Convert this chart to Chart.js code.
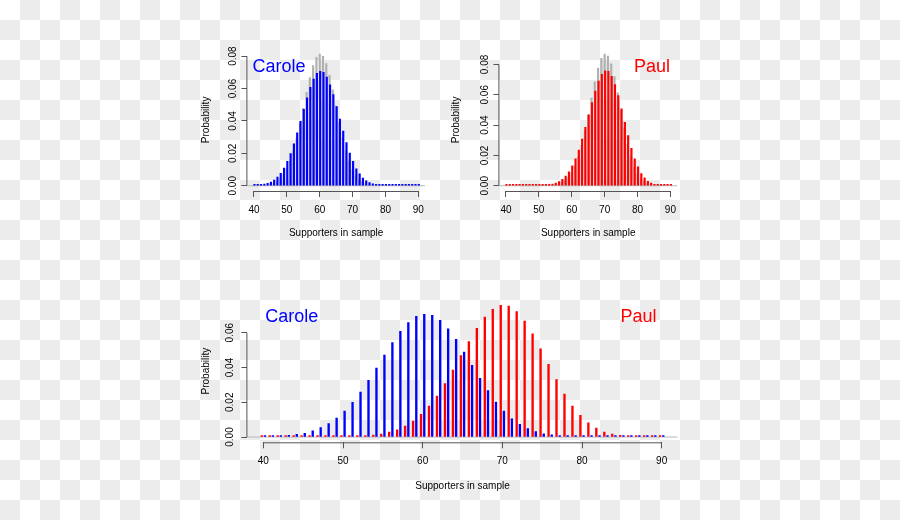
<!DOCTYPE html>
<html>
<head>
<meta charset="utf-8">
<script src="https://cdn.jsdelivr.net/npm/chart.js@4.4.1/dist/chart.umd.min.js"></script>
<style>
  html, body { margin: 0; padding: 0; }
  body {
    width: 900px; height: 520px; overflow: hidden; position: relative;
    background-color: #fff;
    background-image: conic-gradient(#ececec 0 25%, #fff 0 50%, #ececec 0 75%, #fff 0);
    background-size: 40px 40px;
  }
  canvas { position: absolute; left: 0; top: 0; }
</style>
</head>
<body>
<canvas id="carole" width="900" height="520"></canvas>
<canvas id="paul" width="900" height="520"></canvas>
<canvas id="both" width="900" height="520"></canvas>
<script>
// supporters in a sample of 100
const supporters = [40,41,42,43,44,45,46,47,48,49,50,51,52,53,54,55,56,57,58,59,60,
  61,62,63,64,65,66,67,68,69,70,71,72,73,74,75,76,77,78,79,80,81,82,83,84,85,86,87,88,89,90];

// Carole, simulated (blue)
const caroleSample = [0.0002,0.0004,0.0006,0.0010,0.0015,0.0022,0.0035,0.0054,0.0077,0.0109,
  0.0150,0.0199,0.0259,0.0326,0.0397,0.0472,0.0543,0.0608,0.0658,0.0694,
  0.0706,0.0700,0.0671,0.0623,0.0562,0.0489,0.0412,0.0338,0.0267,0.0201,
  0.0150,0.0105,0.0073,0.0048,0.0031,0.0019,0.0012,0.0008,0.0005,0.0003,
  0.0002,0.0001,0.0001,0.0001,0.0001,0.0001,0.0001,0.0001,0.0001,0.0001,0.0001];

// Paul, simulated (red)
const paulSample = [0.0001,0.0001,0.0001,0.0001,0.0001,0.0001,0.0001,0.0001,0.0001,0.0001,
  0.0003,0.0004,0.0006,0.0008,0.0011,0.0017,0.0028,0.0042,0.0063,0.0092,
  0.0131,0.0178,0.0236,0.0307,0.0385,0.0468,0.0549,0.0625,0.0690,0.0735,
  0.0758,0.0754,0.0721,0.0667,0.0594,0.0508,0.0418,0.0330,0.0247,0.0178,
  0.0125,0.0081,0.0052,0.0029,0.0017,0.0010,0.0006,0.0003,0.0002,0.0001,0.0001];

// grey bars behind (Carole)
const caroleExact = [0.00002,0.00005,0.00011,0.00023,0.00044,0.00083,0.00149,0.00256,0.00425,0.00676,
  0.01034,0.01520,0.02149,0.02919,0.03811,0.04781,0.05763,0.06673,0.07421,0.07924,
  0.08122,0.07989,0.07538,0.06820,0.05914,0.04913,0.03908,0.02975,0.02165,0.01506,
  0.01001,0.00634,0.00383,0.00220,0.00121,0.00063,0.00031,0.00014,0.00006,0.00003,
  0.00001,0,0,0,0,0,0,0,0,0,0];

// grey bars behind (Paul)
const paulExact = [0,0,0,0,0,0,0,0,0,0,
  0.00001,0.00003,0.00006,0.00013,0.00028,0.00055,0.00103,0.00185,0.00321,0.00533,
  0.00849,0.01299,0.01907,0.02684,0.03620,0.04678,0.05788,0.06854,0.07761,0.08398,
  0.08678,0.08556,0.08041,0.07196,0.06127,0.04956,0.03804,0.02767,0.01904,0.01237,
  0.00758,0.00437,0.00236,0.00119,0.00056,0.00025,0.00010,0.00004,0.00001,0,0];

const xTicks = [40,50,60,70,80,90];
const xTickLabels = ['40','50','60','70','80','90'];
const yTicksTop = [0,0.02,0.04,0.06,0.08];
const yTickLabelsTop = ['0.00','0.02','0.04','0.06','0.08'];
const yTicksBottom = [0,0.02,0.04,0.06];
const yTickLabelsBottom = ['0.00','0.02','0.04','0.06'];

Chart.defaults.font.family = '"Liberation Sans", Arial, Helvetica, sans-serif';
Chart.defaults.font.size = 10;
Chart.defaults.color = '#000';

const pts = (vals, shift) => supporters.map((s, i) => ({x: s + shift, y: vals[i]}));

// R-like axes, zero line, y labels and the names
const rAxes = {
  id: 'rAxes',
  beforeDatasetsDraw(chart) {
    const {ctx, chartArea: a, scales: {y}} = chart;
    const y0 = y.getPixelForValue(0);
    ctx.save();
    ctx.strokeStyle = '#b8b8b8';
    ctx.lineWidth = 1;
    ctx.beginPath();
    ctx.moveTo(a.left, y0);
    ctx.lineTo(a.right, y0);
    ctx.stroke();
    ctx.restore();
  },
  afterDraw(chart, args, opts) {
    const {ctx, chartArea: a, scales: {x, y}} = chart;
    const xt = x.ticks, yt = y.ticks;
    ctx.save();
    ctx.strokeStyle = '#555';
    ctx.lineWidth = 1;
    ctx.beginPath();
    ctx.moveTo(x.getPixelForValue(xt[0].value), a.bottom + 0.5);
    ctx.lineTo(x.getPixelForValue(xt[xt.length - 1].value), a.bottom + 0.5);
    ctx.moveTo(a.left - 0.5, y.getPixelForValue(yt[0].value));
    ctx.lineTo(a.left - 0.5, y.getPixelForValue(yt[yt.length - 1].value));
    ctx.stroke();

    ctx.fillStyle = '#000';
    ctx.font = '10px "Liberation Sans", Arial, sans-serif';
    ctx.textAlign = 'center';
    ctx.textBaseline = 'middle';
    yt.forEach((t, i) => {
      ctx.save();
      ctx.translate(a.left - opts.yLabelGap, y.getPixelForValue(t.value));
      ctx.rotate(-Math.PI / 2);
      ctx.fillText(opts.yLabels[i], 0, 0);
      ctx.restore();
    });

    ctx.font = '18px "Liberation Sans", Arial, sans-serif';
    opts.names.forEach(n => {
      ctx.fillStyle = n.color;
      ctx.fillText(n.text, x.getPixelForValue(n.x), y.getPixelForValue(n.y));
    });
    ctx.restore();
  }
};

function panel(id, o) {
  return new Chart(document.getElementById(id), {
    type: 'bar',
    data: { datasets: o.datasets },
    options: {
      responsive: false,
      animation: false,
      events: [],
      layout: { padding: o.pad },
      datasets: {
        bar: { grouped: false, barThickness: o.barW, maxBarThickness: o.barW, minBarLength: 1.5, borderWidth: 0 }
      },
      plugins: {
        legend: { display: false },
        tooltip: { enabled: false },
        rAxes: { yLabels: o.yLabels, yLabelGap: o.yLabelGap, names: o.names }
      },
      scales: {
        x: {
          type: 'linear', min: 38, max: 92, offset: false,
          afterBuildTicks: s => { s.ticks = xTicks.map(v => ({value: v})); },
          afterFit: s => { s.height = 50; },
          grid: { display: true, drawOnChartArea: false, drawTicks: true, tickLength: 6, color: '#555', offset: false },
          border: { display: false },
          ticks: { autoSkip: false, padding: 7, maxRotation: 0, callback: (v, i) => xTickLabels[i] },
          title: { display: true, text: 'Supporters in sample', padding: { top: 0, bottom: o.xTitlePad } }
        },
        x2: { type: 'linear', min: 38, max: 92, offset: false, display: false },
        y: {
          type: 'linear', min: o.ymin, max: o.ymax,
          afterBuildTicks: s => { s.ticks = o.yTicks.map(v => ({value: v})); },
          afterFit: s => { s.width = 50; },
          grid: { display: true, drawOnChartArea: false, drawTicks: true, tickLength: 6, color: '#555' },
          border: { display: false },
          ticks: { display: false },
          title: { display: true, text: 'Probability', padding: { top: o.yTitlePad, bottom: 0 } }
        }
      }
    },
    plugins: [rAxes]
  });
}

panel('carole', {
  datasets: [
    { data: pts(caroleSample, 0.15), backgroundColor: '#0000ff', order: 0 },
    { data: pts(caroleExact, 0), backgroundColor: '#b0b0b0', xAxisID: 'x2', minBarLength: 0, order: 1 }
  ],
  barW: 1.5,
  pad: { left: 197.4, right: 475.1, top: 48.9, bottom: 279 },
  ymin: -0.00325, ymax: 0.08447,
  yTicks: yTicksTop, yLabels: yTickLabelsTop, yLabelGap: 14.5,
  xTitlePad: 1.7, yTitlePad: 2.6,
  names: [{ text: 'Carole', color: '#0000ff', x: 47.6, y: 0.0735 }]
});

panel('paul', {
  datasets: [
    { data: pts(paulSample, 0.15), backgroundColor: '#ff0000', order: 0 },
    { data: pts(paulExact, 0), backgroundColor: '#b0b0b0', xAxisID: 'x2', minBarLength: 0, order: 1 }
  ],
  barW: 1.5,
  pad: { left: 449.4, right: 223, top: 48.9, bottom: 279 },
  ymin: -0.00347, ymax: 0.09025,
  yTicks: yTicksTop, yLabels: yTickLabelsTop, yLabelGap: 14.5,
  xTitlePad: 1.7, yTitlePad: 0.6,
  names: [{ text: 'Paul', color: '#ff0000', x: 84.4, y: 0.0786 }]
});

panel('both', {
  datasets: [
    { data: pts(caroleSample, 0.2), backgroundColor: '#0000ff' },
    { data: pts(paulSample, -0.2), backgroundColor: '#ff0000', xAxisID: 'x2' }
  ],
  barW: 1.7,
  pad: { left: 197.4, right: 222.4, top: 300, bottom: 27.7 },
  ymin: -0.00303, ymax: 0.07883,
  yTicks: yTicksBottom, yLabels: yTickLabelsBottom, yLabelGap: 17.5,
  xTitlePad: 0.5, yTitlePad: 2.6,
  names: [
    { text: 'Carole', color: '#0000ff', x: 43.56, y: 0.0692 },
    { text: 'Paul', color: '#ff0000', x: 87.1, y: 0.0692 }
  ]
});
</script>
</body>
</html>
